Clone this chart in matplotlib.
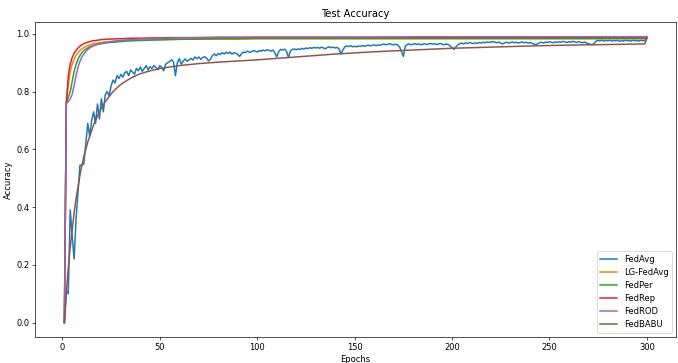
import matplotlib

matplotlib.use("Agg")
import matplotlib.pyplot as plt

# FedAvg, one value per epoch (1..300)
FEDAVG_EPOCHS = list(range(1, 301))
FEDAVG = [
    0.00, 0.11, 0.10, 0.39, 0.30, 0.22, 0.36, 0.45, 0.545, 0.545,
    0.55, 0.62, 0.69, 0.645, 0.70, 0.73, 0.69, 0.757, 0.705, 0.775,
    0.73, 0.79, 0.80, 0.785, 0.82, 0.84, 0.83, 0.855, 0.845, 0.86,
    0.85, 0.865, 0.87, 0.855, 0.875, 0.868, 0.86, 0.88, 0.872, 0.885,
    0.87, 0.88, 0.89, 0.875, 0.886, 0.88, 0.89, 0.884, 0.876, 0.89,
    0.884, 0.872, 0.895, 0.90, 0.904, 0.91, 0.903, 0.855, 0.90, 0.914,
    0.895, 0.906, 0.913, 0.905, 0.91, 0.915, 0.909, 0.92, 0.914, 0.92,
    0.912, 0.918, 0.921, 0.916, 0.906, 0.912, 0.925, 0.93, 0.924, 0.932,
    0.928, 0.935, 0.93, 0.936, 0.932, 0.937, 0.93, 0.935, 0.933, 0.928,
    0.922, 0.932, 0.937, 0.935, 0.94, 0.936, 0.938, 0.942, 0.94, 0.937,
    0.942, 0.94, 0.944, 0.941, 0.945, 0.943, 0.94, 0.944, 0.935, 0.92,
    0.938, 0.946, 0.944, 0.947, 0.94, 0.918, 0.94, 0.946, 0.948, 0.945,
    0.948, 0.946, 0.95, 0.947, 0.951, 0.949, 0.952, 0.95, 0.953, 0.951,
    0.953, 0.95, 0.954, 0.951, 0.948, 0.953, 0.955, 0.952, 0.954, 0.951,
    0.953, 0.948, 0.93, 0.945, 0.955, 0.958, 0.956, 0.959, 0.955, 0.957,
    0.955, 0.958, 0.956, 0.96, 0.957, 0.959, 0.961, 0.958, 0.96, 0.962,
    0.959, 0.962, 0.96, 0.963, 0.965, 0.962, 0.964, 0.966, 0.963, 0.962,
    0.964, 0.962, 0.955, 0.94, 0.922, 0.958, 0.963, 0.965, 0.962, 0.964,
    0.966, 0.963, 0.965, 0.962, 0.964, 0.966, 0.963, 0.965, 0.967, 0.964,
    0.966, 0.963, 0.965, 0.967, 0.964, 0.962, 0.965, 0.963, 0.958, 0.952,
    0.946, 0.955, 0.962, 0.966, 0.968, 0.965, 0.969, 0.967, 0.97, 0.968,
    0.966, 0.969, 0.967, 0.97, 0.968, 0.971, 0.969, 0.972, 0.97, 0.972,
    0.973, 0.971, 0.969, 0.972, 0.968, 0.965, 0.969, 0.971, 0.968, 0.97,
    0.972, 0.969, 0.971, 0.968, 0.97, 0.972, 0.969, 0.971, 0.968, 0.97,
    0.967, 0.965, 0.962, 0.966, 0.969, 0.971, 0.968, 0.972, 0.97, 0.973,
    0.971, 0.969, 0.972, 0.97, 0.973, 0.971, 0.974, 0.972, 0.97, 0.973,
    0.971, 0.974, 0.972, 0.97, 0.973, 0.971, 0.969, 0.972, 0.968, 0.966,
    0.964, 0.962, 0.968, 0.975, 0.977, 0.976, 0.978, 0.975, 0.977, 0.976,
    0.978, 0.975, 0.977, 0.976, 0.978, 0.974, 0.977, 0.975, 0.978, 0.976,
    0.977, 0.975, 0.978, 0.976, 0.977, 0.975, 0.978, 0.976, 0.977, 0.986,
]

# the other methods are smooth, read at these epochs
EPOCHS = [1, 2, 3, 4, 5, 6, 7, 8, 9, 10, 11, 12, 13, 14, 15, 16, 17, 18, 19, 20,
          22, 24, 26, 28, 30, 33, 36, 40, 45, 50, 55, 60, 70, 80, 90, 100,
          120, 140, 160, 180, 200, 220, 240, 260, 280, 299, 300]

LG_FEDAVG = [0.0, 0.76, 0.82, 0.87, 0.895, 0.912, 0.925, 0.935, 0.942, 0.948,
             0.952, 0.956, 0.959, 0.962, 0.964, 0.966, 0.967, 0.968, 0.969, 0.97,
             0.972, 0.973, 0.974, 0.975, 0.976, 0.977, 0.978, 0.979, 0.98, 0.98,
             0.981, 0.981, 0.982, 0.982, 0.982, 0.983, 0.983, 0.983, 0.983, 0.983,
             0.983, 0.983, 0.983, 0.983, 0.983, 0.983, 0.986]

FEDPER = [0.0, 0.76, 0.78, 0.80, 0.835, 0.87, 0.895, 0.912, 0.925, 0.935,
          0.942, 0.947, 0.951, 0.955, 0.958, 0.96, 0.962, 0.964, 0.965, 0.966,
          0.968, 0.97, 0.971, 0.972, 0.973, 0.975, 0.976, 0.977, 0.978, 0.979,
          0.98, 0.981, 0.982, 0.983, 0.983, 0.984, 0.984, 0.984, 0.984, 0.984,
          0.984, 0.984, 0.984, 0.984, 0.984, 0.984, 0.987]

FEDREP = [0.0, 0.764, 0.855, 0.895, 0.918, 0.933, 0.943, 0.951, 0.957, 0.962,
          0.966, 0.969, 0.971, 0.973, 0.975, 0.976, 0.977, 0.978, 0.979, 0.98,
          0.981, 0.982, 0.982, 0.983, 0.983, 0.984, 0.985, 0.985, 0.986, 0.986,
          0.987, 0.987, 0.987, 0.988, 0.988, 0.988, 0.988, 0.988, 0.988, 0.988,
          0.988, 0.988, 0.988, 0.988, 0.988, 0.988, 0.99]

FEDROD = [0.0, 0.76, 0.765, 0.775, 0.79, 0.82, 0.855, 0.885, 0.905, 0.92,
          0.93, 0.939, 0.946, 0.951, 0.955, 0.958, 0.961, 0.963, 0.965, 0.967,
          0.97, 0.972, 0.974, 0.976, 0.977, 0.979, 0.98, 0.982, 0.983, 0.984,
          0.985, 0.986, 0.987, 0.988, 0.988, 0.989, 0.989, 0.989, 0.989, 0.99,
          0.99, 0.99, 0.99, 0.99, 0.99, 0.99, 0.991]

FEDBABU = [0.0, 0.10, 0.19, 0.26, 0.32, 0.38, 0.43, 0.47, 0.51, 0.545,
           0.575, 0.60, 0.625, 0.645, 0.665, 0.685, 0.70, 0.715, 0.73, 0.742,
           0.765, 0.783, 0.80, 0.813, 0.825, 0.838, 0.85, 0.862, 0.872, 0.88,
           0.885, 0.89, 0.897, 0.902, 0.906, 0.91, 0.92, 0.93, 0.938, 0.944,
           0.95, 0.954, 0.958, 0.961, 0.963, 0.965, 0.985]

fig, ax = plt.subplots(figsize=(11.3, 6.05))
fig.subplots_adjust(left=0.052, right=0.997, top=0.939, bottom=0.072)

lw = 1.8
ax.plot(FEDAVG_EPOCHS, FEDAVG, lw=lw, label="FedAvg")
ax.plot(EPOCHS, LG_FEDAVG, lw=lw, label="LG-FedAvg")
ax.plot(EPOCHS, FEDPER, lw=lw, label="FedPer")
ax.plot(EPOCHS, FEDREP, lw=lw, label="FedRep")
ax.plot(EPOCHS, FEDROD, lw=lw, label="FedROD")
ax.plot(EPOCHS, FEDBABU, lw=lw, label="FedBABU")

ax.set_title("Test Accuracy")
ax.set_xlabel("Epochs")
ax.set_ylabel("Accuracy")
ax.legend(loc="lower right")

fig.savefig("out.png", dpi=60)
